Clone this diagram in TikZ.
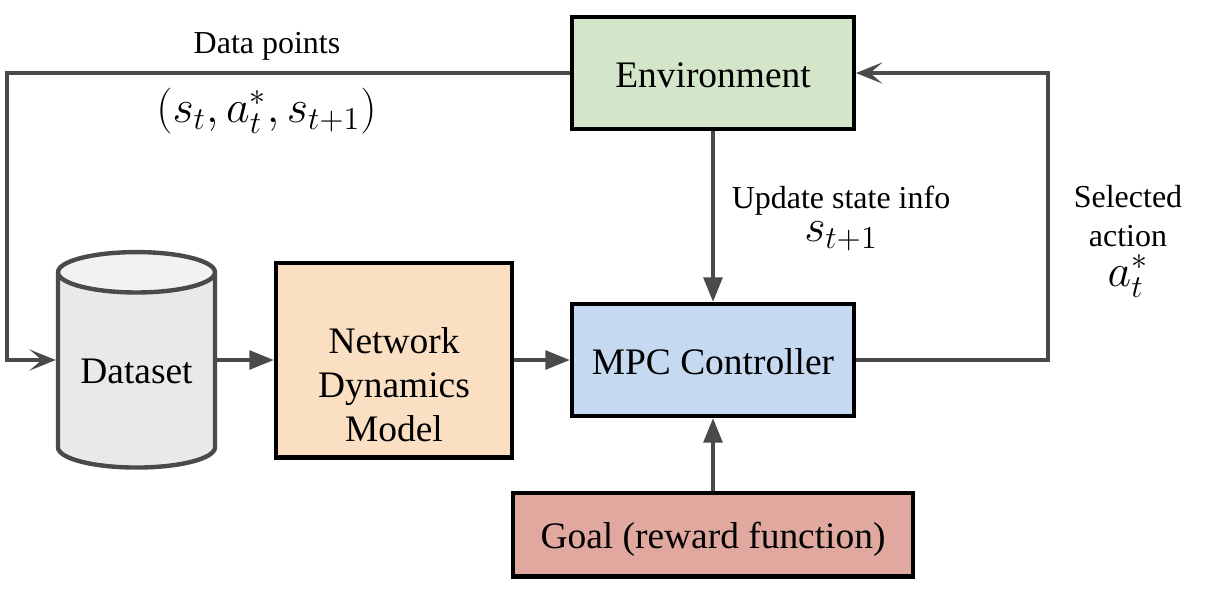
\documentclass[tikz,border=0pt]{standalone}
\usepackage{fontspec}
\setmainfont{Liberation Serif}
\usetikzlibrary{arrows.meta,shapes.geometric}
\definecolor{envgreen}{HTML}{D3E6C9}
\definecolor{modelorange}{HTML}{FADFC2}
\definecolor{mpcblue}{HTML}{C5DAF0}
\definecolor{goalred}{HTML}{E0A89F}
\definecolor{flowgray}{HTML}{4A4A4A}
\newcommand{\bigtext}{\fontsize{21.3}{25}\selectfont}
\newcommand{\smalltext}{\fontsize{18.2}{22}\selectfont}
\newcommand{\mathtext}{\fontsize{20.74}{25}\selectfont}
\tikzset{
  block/.style={draw=black,line width=2.3pt,align=center,font=\bigtext,inner sep=0pt},
  oneline/.style={block,text height=16.4pt,text depth=0pt},
  flow/.style={draw=flowgray,line width=2.5pt},
  solidhead/.style={flow,-{Triangle[length=14pt,width=10.5pt]}},
  openhead/.style={flow,-{Stealth[length=15pt,width=12pt,inset=7pt]}},
  caption/.style={align=center,font=\smalltext,inner sep=0pt},
  mathlabel/.style={inner sep=0pt,font=\mathtext,scale=1.26},
}
\begin{document}
\begin{tikzpicture}[x=0.02cm,y=-0.02cm]
  \useasboundingbox (0,0) rectangle (1210,600);
  \node[oneline,fill=envgreen,minimum width=5.64cm,minimum height=2.24cm] (env) at (713,73) {Environment};
  \node[oneline,fill=mpcblue,minimum width=5.64cm,minimum height=2.24cm] (mpc) at (713,360) {MPC Controller};
  \node[block,fill=modelorange,minimum width=4.72cm,minimum height=3.9cm] (model) at (394,360) {\strut\\Network\\Dynamics\\Model};
  \node[oneline,fill=goalred,minimum width=8.02cm,minimum height=1.68cm] (goal) at (713,534.5) {Goal (reward function)};
  \node[cylinder,shape border rotate=90,aspect=0.36,draw=flowgray,line width=2.5pt,cylinder uses custom fill,
    cylinder body fill=gray!17,cylinder end fill=gray!10,minimum width=3.14cm,minimum height=4.31cm,inner sep=0pt,font=\bigtext] (data) at (136.5,371) {Dataset};
  %
  \coordinate (leftcorner) at (7,73);
  \coordinate (rightcorner) at (1048,73);
  \draw[openhead] (env.west) -- (leftcorner) |- (data.west |- model.west);
  \draw[solidhead] (data.east |- model.west) -- (model.west);
  \draw[solidhead] (model.east) -- (mpc.west);
  \draw[solidhead] (env.south) -- (mpc.north);
  \draw[solidhead] (goal.north) -- (mpc.south);
  \draw[openhead] (mpc.east) -| (rightcorner) -- (env.east);
  %
  \node[caption] (points) at (267,46) {Data points};
  \node[mathlabel] (tuple) at (266.5,111) {$(s_t,a_t^*,s_{t+1})$};
  \node[caption] (update) at (841,201) {Update state info};
  \node[mathlabel] (state) at (841,236) {$s_{t+1}$};
  \node[caption] (selected) at (1128,216) {Selected\\action};
  \node[mathlabel] (action) at (1128,276) {$a_t^*$};
\end{tikzpicture}
\end{document}
